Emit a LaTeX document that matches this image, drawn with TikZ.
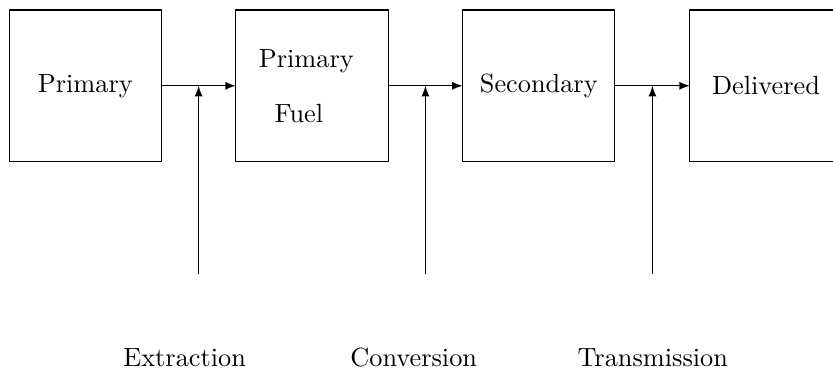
\documentclass[tikz,border=0pt]{standalone}
\usetikzlibrary{calc,arrows}
\begin{document}
\begin{tikzpicture}[x=0.38pt,y=-0.38pt,
  stage/.style={draw,rectangle,minimum width=57.8pt,minimum height=57.6pt,inner sep=0pt,outer sep=0pt},
  flow/.style={-latex,line width=0.4pt},
  lbl/.style={anchor=base,inner sep=0pt}]
\clip (0,0) rectangle (833,369);
\node[stage] (b1) at (85.3,85.8) {Primary};
\node[stage] (b2) at (312,85.8) {};
\node[stage] (b3) at (538.8,85.8) {Secondary};
\node[stage] (b4) at (766,85.8) {Delivered};
\node[lbl] (t2a) at (306.3,67.3) {Primary};
\node[lbl] (t2b) at (298.9,122.7) {Fuel};
\draw[flow] (b1.east) -- (b2.west);
\draw[flow] (b2.east) -- (b3.west);
\draw[flow] (b3.east) -- (b4.west);
\coordinate (j1) at ($(b1.east)!0.5!(b2.west)$);
\coordinate (j2) at ($(b2.east)!0.5!(b3.west)$);
\coordinate (j3) at ($(b3.east)!0.5!(b4.west)$);
\coordinate (s1) at ($(j1)+(0,188.3)$);
\coordinate (s2) at ($(j2)+(0,188.3)$);
\coordinate (s3) at ($(j3)+(0,188.3)$);
\draw[flow] (s1) -- (j1);
\draw[flow] (s2) -- (j2);
\draw[flow] (s3) -- (j3);
\node[lbl] (l1) at (184.7,366) {Extraction};
\node[lbl] (l2) at (413.7,366) {Conversion};
\node[lbl] (l3) at (652.8,366) {Transmission};
\end{tikzpicture}
\end{document}
